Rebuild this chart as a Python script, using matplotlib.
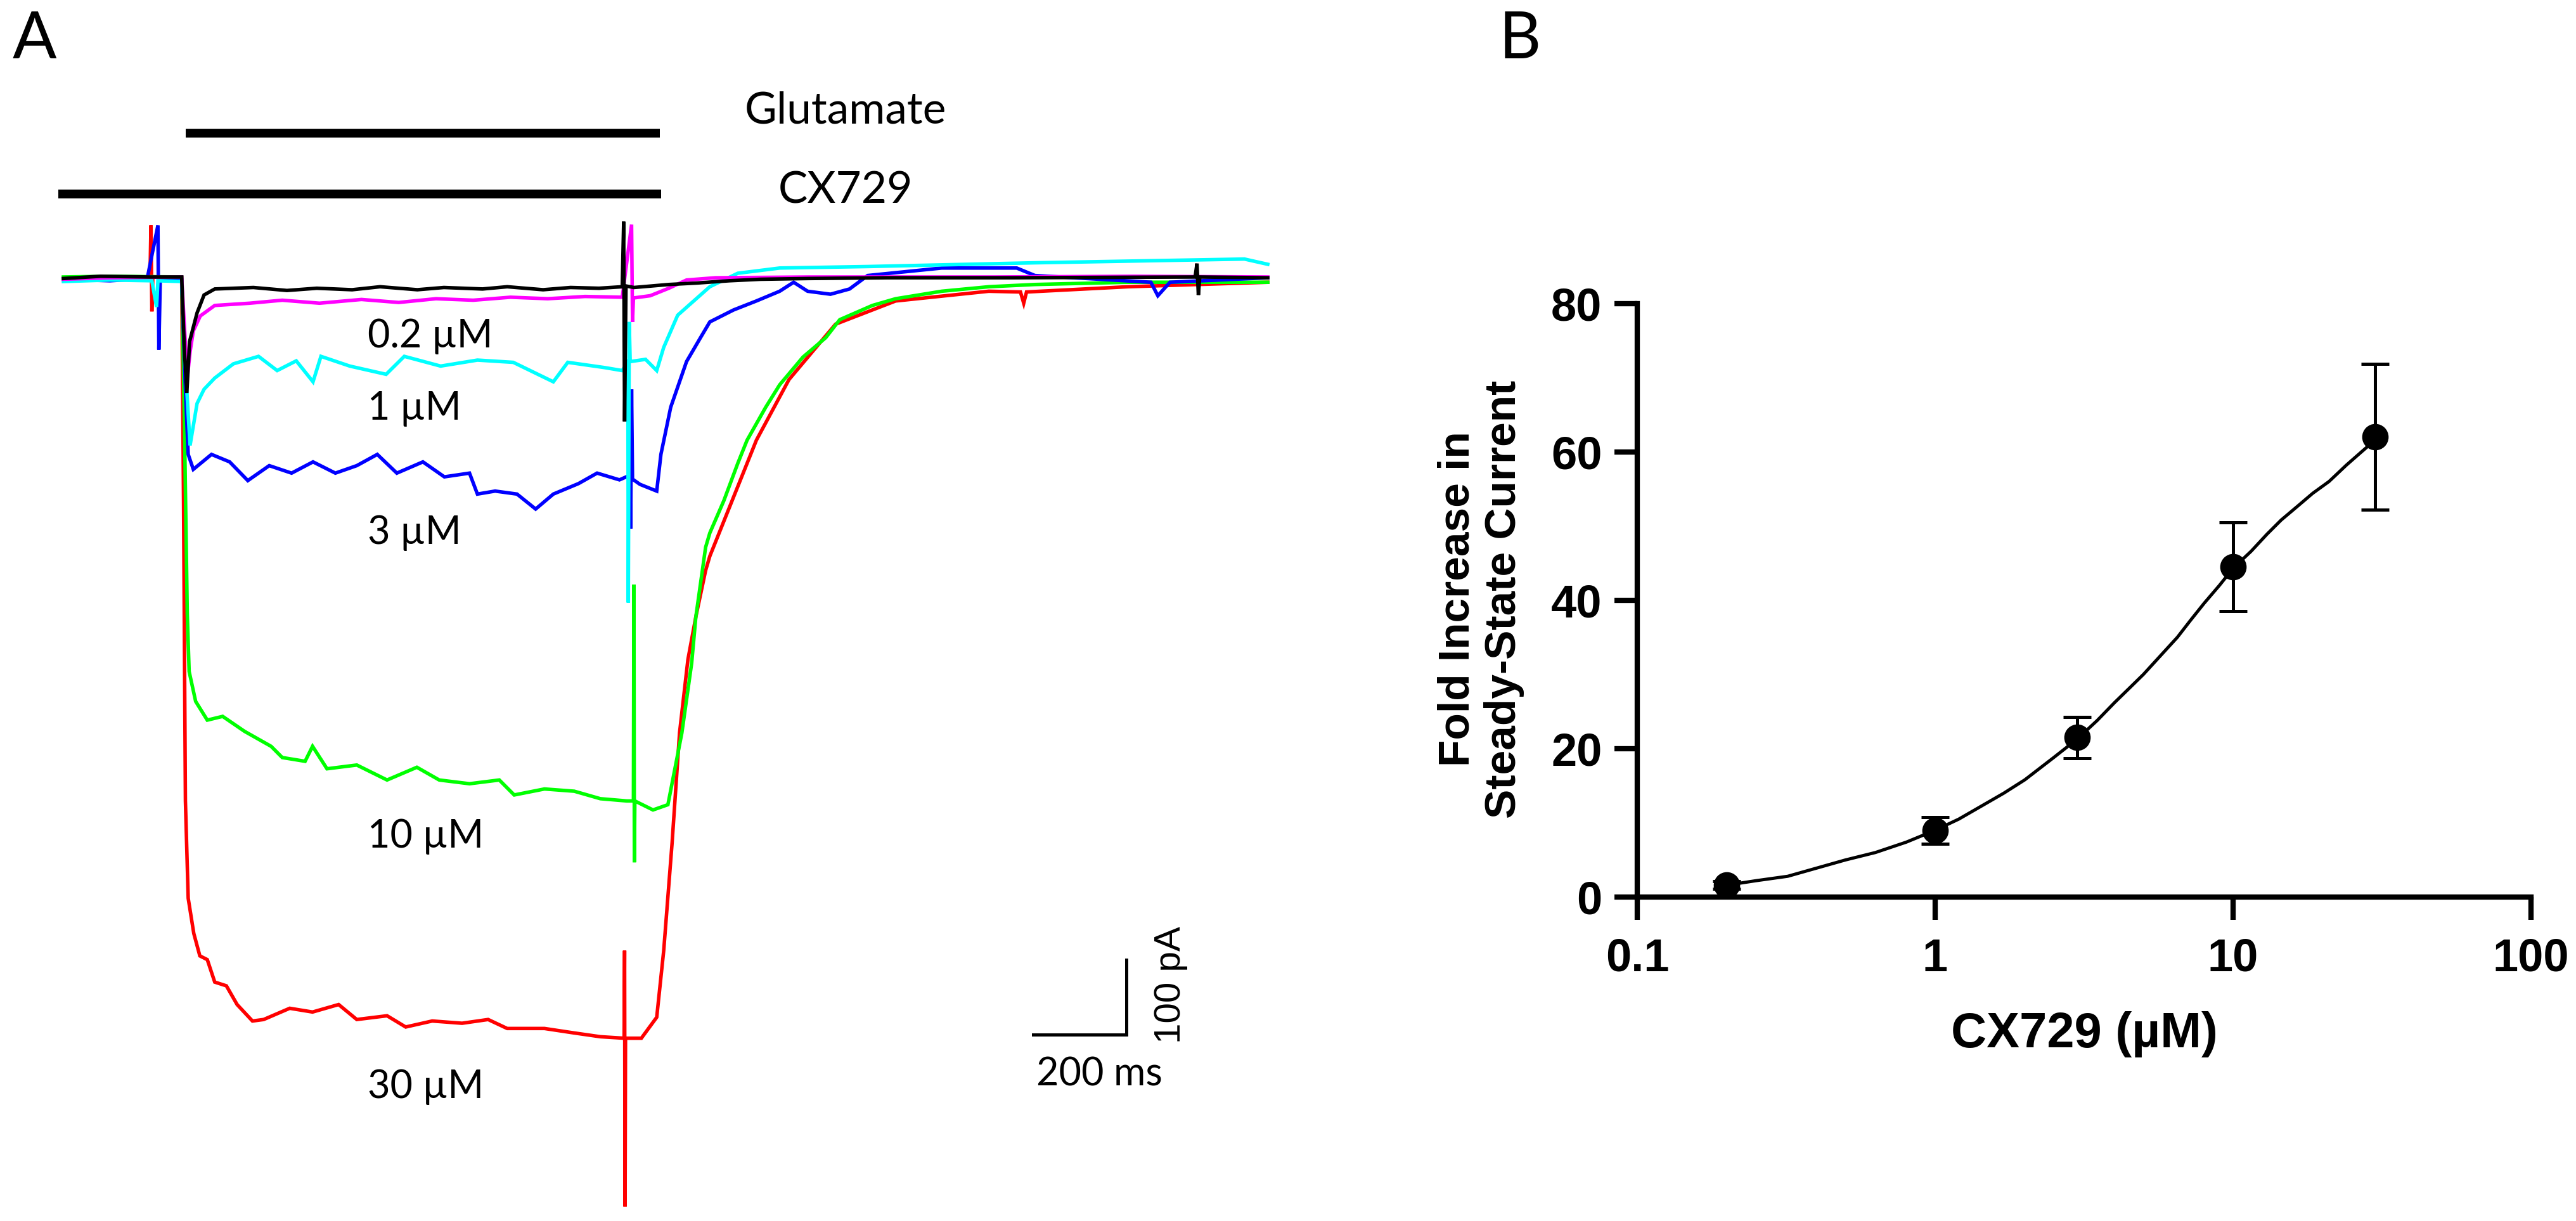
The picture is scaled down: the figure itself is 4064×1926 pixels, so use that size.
import matplotlib
matplotlib.use("Agg")
import matplotlib.pyplot as plt
from matplotlib.ticker import NullLocator

# ---------------- panel A: current traces (time in ms, current in pA) ----------------
black_t = [0, 80, 185, 254, 260, 265, 271, 287, 302, 325, 408, 480, 544, 620, 680, 760, 817, 900, 953,
           1030, 1089, 1150, 1200, 1203, 1205, 1208, 1225, 1300, 1361, 1430, 1497, 1600, 1769, 2041,
           2430, 2434, 2437, 2440, 2586]
black_i = [-2, 1, 0, 0, -100, -155, -86, -48, -24, -16, -14, -18, -15, -17, -13, -17, -14, -16, -13,
           -17, -14, -15, -13, 74, -193, -12, -14, -10, -8, -5, -3, -2, -1, -1,
           0, 18, -24, 0, -1]

magenta_t = [0, 100, 254, 262, 267, 272, 279, 294, 325, 400, 470, 550, 640, 720, 800, 880, 960, 1040,
             1120, 1200, 1220, 1222, 1224, 1260, 1300, 1338, 1400, 1600, 2000, 2300, 2586]
magenta_i = [-3, -1, 0, -90, -130, -100, -72, -52, -38, -35, -31, -35, -30, -34, -29, -31, -27, -29,
             -26, -27, 70, -60, -28, -25, -15, -4, -1, 0, 0, 1, 0]

cyan_t = [0, 100, 190, 200, 203, 254, 262, 272, 287, 302, 325, 365, 419, 459, 500, 536, 553, 615, 693,
          732, 810, 889, 966, 1052, 1083, 1162, 1200, 1212, 1213, 1215, 1217, 1250, 1274, 1289, 1319,
          1388, 1448, 1538, 1727, 2086, 2536, 2586]
cyan_i = [-6, -4, -5, -40, -5, -6, -120, -225, -169, -150, -135, -116, -106, -125, -112, -140, -106, -119, -130,
          -106, -119, -111, -114, -140, -114, -121, -125, -113, -435, -60, -113, -110, -125, -94, -51,
          -13, 5, 12, 14, 19, 24, 17]

blue_t = [0, 100, 180, 203, 205, 208, 254, 262, 268, 279, 318, 357, 396, 442, 490, 536, 584, 630, 674,
          716, 772, 818, 872, 889, 927, 974, 1014, 1052, 1106, 1146, 1194, 1216, 1218, 1220, 1222, 1238,
          1274, 1283, 1304, 1338, 1368, 1388, 1439, 1488, 1538, 1568, 1598, 1647, 1688, 1727, 1886,
          2047, 2086, 2335, 2350, 2376, 2586]
blue_i = [-3, -5, -2, 69, -97, -3, -4, -150, -237, -257, -237, -247, -272, -252, -262, -247, -262, -252, -237,
          -262, -247, -267, -262, -290, -286, -290, -310, -290, -276, -262, -271, -265, -336, -150, -270, -277,
          -286, -237, -174, -113, -81, -60, -44, -32, -19, -7, -19, -23, -16, 2, 12,
          12, 2, -7, -25, -7, -1]

green_t = [0, 100, 254, 260, 266, 270, 284, 309, 342, 389, 446, 470, 519, 535, 566, 630, 695, 759, 807,
           872, 936, 968, 1033, 1097, 1153, 1210, 1224, 1225, 1226, 1227, 1266, 1298, 1328, 1349, 1358,
           1379, 1388, 1418, 1448, 1468, 1508, 1538, 1588, 1637, 1667, 1737, 1787, 1886, 1987, 2086,
           2286, 2586]
green_i = [0, 1, 0, -200, -450, -527, -567, -592, -587, -607, -627, -642, -647, -627, -657, -652, -672, -655, -672,
           -677, -672, -692, -684, -687, -697, -700, -700, -411, -782, -700, -712, -705, -609, -516, -454,
           -361, -342, -299, -249, -218, -174, -144, -107, -81, -57, -38, -29, -19, -13, -10,
           -7, -7]

red_t = [0, 100, 186, 188, 190, 192, 254, 258, 262, 268, 280, 293, 309, 325, 350, 373, 406, 430, 486,
         535, 591, 630, 695, 735, 792, 856, 912, 953, 1033, 1097, 1153, 1204, 1205, 1206, 1207, 1241,
         1274, 1289, 1307, 1323, 1341, 1358, 1379, 1388, 1428, 1488, 1558, 1658, 1787, 1987, 2055,
         2062, 2068, 2286, 2586]
red_i = [-2, 0, 0, 69, -46, 0, -1, -300, -700, -830, -877, -907, -912, -942, -947, -972, -994, -992, -977,
         -982, -972, -992, -987, -1002, -994, -997, -992, -1004, -1004, -1010, -1015, -1017, -900, -1242, -1017, -1017,
         -989, -900, -756, -609, -511, -454, -392, -373, -311, -218, -137, -63, -32, -19, -20,
         -35, -20, -13, -7]

conc_labels = ["0.2 \u00b5M", "1 \u00b5M", "3 \u00b5M", "10 \u00b5M", "30 \u00b5M"]

# ---------------- panel B: concentration-response ----------------
conc = [0.2, 1, 3, 10, 30]
fold = [1.6, 9.0, 21.5, 44.5, 62.0]
sem = [0.5, 1.8, 2.8, 6.0, 9.8]

# fitted curve
fit_x = [0.2, 0.25, 0.32, 0.4, 0.5, 0.63, 0.8, 1, 1.2, 1.45, 1.7, 2, 2.5, 3, 3.5, 4, 4.5, 5, 5.7,
         6.5, 7.2, 8, 9, 10, 11.5, 13, 14.5, 16.5, 18.5, 21, 24, 27, 30]
fit_y = [1.6, 2.2, 2.8, 3.9, 5.0, 6.0, 7.4, 9.0, 10.5, 12.4, 14.0, 15.8, 18.8, 21.3, 23.8, 26.2, 28.2,
         30.0, 32.5, 35.0, 37.3, 39.6, 42.0, 44.3, 46.6, 48.9, 50.8, 52.7, 54.4, 56.0, 58.2, 60.0, 61.6]

fig = plt.figure(figsize=(20.32, 9.63), dpi=200)

# panel A
axa = fig.add_axes([0, 0, 2100 / 4064, 1])
axa.set_xlim(-136.1, 2722)
axa.set_ylim(-1261.2, 370.1)
axa.axis("off")

traces = [(red_t, red_i, "#ff0000"), (green_t, green_i, "#00ff00"), (blue_t, blue_i, "#0000ff"),
          (cyan_t, cyan_i, "#00ffff"), (magenta_t, magenta_i, "#ff00ff"), (black_t, black_i, "#000000")]
for t, i, c in traces:
    axa.plot(t, i, color=c, lw=2.0, solid_joinstyle="miter")

# application bars
axa.plot([263, 1281], [192, 192], color="k", lw=5, solid_capstyle="butt")
axa.plot([-11, 1283], [111, 111], color="k", lw=5, solid_capstyle="butt")
txt = dict(family="Lato", fontsize=25, color="k")
axa.text(1680, 205, "Glutamate", ha="center", va="baseline", **txt)
axa.text(1680, 99, "CX729", ha="center", va="baseline", **txt)

label_y = [-94, -191, -357, -762, -1097]
for lab, y in zip(conc_labels, label_y):
    axa.text(653, y, lab, ha="left", va="baseline", family="Lato", fontsize=22)

# scale bar
axa.plot([2082, 2282, 2282], [-1012, -1012, -912], color="k", lw=1.8, solid_joinstyle="miter")
axa.text(2225, -1080, "200 ms", ha="center", va="baseline", family="Lato", fontsize=22)
axa.text(2378, -946, "100 pA", ha="center", va="center", rotation=90,
         family="Liberation Sans", fontsize=21)

fig.text(20 / 4064, 1 - 92 / 1926, "A", family="Lato", fontsize=37, va="baseline")
fig.text(2365 / 4064, 1 - 92 / 1926, "B", family="Lato", fontsize=37, va="baseline")

# panel B
axb = fig.add_axes([2583 / 4064, 1 - 1415 / 1926, (3993 - 2583) / 4064, (1415 - 478.5) / 1926])
axb.set_xscale("log")
axb.set_xlim(0.1, 100)
axb.set_ylim(0, 80)
axb.plot(fit_x, fit_y, color="k", lw=1.8)
axb.errorbar(conc, fold, yerr=sem, fmt="o", color="k", ms=14, capsize=8,
             elinewidth=1.8, capthick=1.8, clip_on=False)
for s in ["top", "right"]:
    axb.spines[s].set_visible(False)
for s in ["left", "bottom"]:
    axb.spines[s].set_linewidth(3)
axb.set_xticks([0.1, 1, 10, 100])
axb.set_xticklabels(["0.1", "1", "10", "100"])
axb.xaxis.set_minor_locator(NullLocator())
axb.set_yticks([0, 20, 40, 60, 80])
axb.tick_params(length=13, width=3, labelsize=26, pad=7)
axb.tick_params(axis="x", pad=10)
for lab in axb.get_xticklabels() + axb.get_yticklabels():
    lab.set_fontfamily("Liberation Sans")
    lab.set_fontweight("bold")

fig.text(2336 / 4064, 1 - 945 / 1926, "Fold Increase in\nSteady-State Current", rotation=90,
         ha="center", va="center", multialignment="center", family="Liberation Sans",
         fontweight="bold", fontsize=25, linespacing=1.2)
fig.text(3288 / 4064, 1 - 1652 / 1926, "CX729 (\u00b5M)", ha="center", va="baseline",
         family="Liberation Sans", fontweight="bold", fontsize=28)

fig.savefig("out.png", dpi=200)
